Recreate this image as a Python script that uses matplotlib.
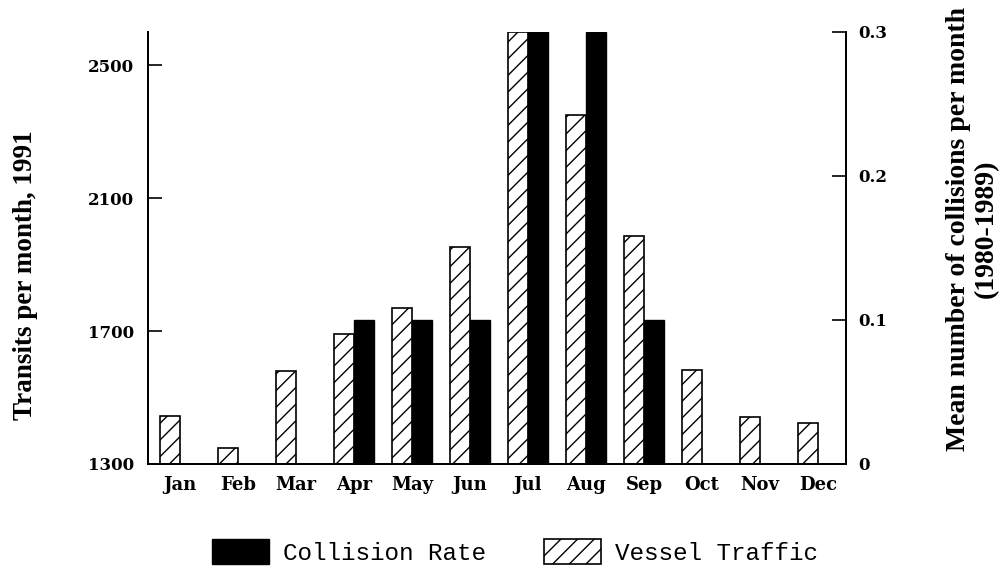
import numpy as np
import matplotlib
matplotlib.use("Agg")
import matplotlib.pyplot as plt
from matplotlib.patches import Patch

# monthly values
months = ["Jan", "Feb", "Mar", "Apr", "May", "Jun",
          "Jul", "Aug", "Sep", "Oct", "Nov", "Dec"]
vessel_traffic = [1443, 1348, 1579, 1690, 1770, 1952,
                  2600, 2349, 1987, 1584, 1440, 1423]
collision_rate = [0, 0, 0, 0.1, 0.1, 0.1,
                  0.3, 0.3, 0.1, 0, 0, 0]
left_ticks = [1300, 1700, 2100, 2500]
right_ticks = [0, 0.1, 0.2, 0.3]
right_tick_labels = ["0", "0.1", "0.2", "0.3"]

plt.rcParams["hatch.linewidth"] = 1.0
fig = plt.figure(figsize=(10.04, 5.70), dpi=100)
ax = fig.add_axes([0.1474, 0.186, 0.695, 0.758])
ax2 = ax.twinx()

x = np.arange(len(months))
w = 0.345
ax.bar(x - w / 2, np.array(vessel_traffic) - 1300, w, bottom=1300,
       color="white", edgecolor="black", hatch="//", linewidth=1.2)
ax2.bar(x + w / 2, collision_rate, w, color="black", edgecolor="black")

ax.set_xlim(-0.552, 11.48)
ax.set_ylim(1300, 2600)
ax2.set_ylim(0, 0.3)

tick_font = dict(family="DejaVu Serif", weight="bold", size=12)
ax.set_xticks(x)
ax.set_xticklabels(months, family="DejaVu Serif", weight="bold", size=13)
ax.set_yticks(left_ticks)
ax.set_yticklabels([str(t) for t in left_ticks], **tick_font)
ax2.set_yticks(right_ticks)
ax2.set_yticklabels(right_tick_labels, **tick_font)

ax.tick_params(axis="x", length=0, pad=9)
ax.tick_params(axis="y", direction="in", length=10, width=1.2, pad=10)
ax2.tick_params(axis="y", direction="in", length=10, width=1.2, pad=9)

for a in (ax, ax2):
    a.spines["top"].set_visible(False)
    for s in ("left", "right", "bottom"):
        a.spines[s].set_linewidth(1.4)

ax.set_ylabel("Transits per month, 1991", family="Liberation Serif",
              weight="bold", size=19.5)
ax.yaxis.set_label_coords(-0.1576, 0.4375)
ax2.set_ylabel("Mean number of collisions per month\n(1980-1989)",
               rotation=90, linespacing=1.15, family="Liberation Serif",
               weight="bold", size=20)
ax2.yaxis.set_label_coords(1.143, 0.545)

handles = [Patch(facecolor="black", edgecolor="black", label="Collision Rate"),
           Patch(facecolor="white", edgecolor="black", hatch="//",
                 linewidth=1.2, label="Vessel Traffic")]
fig.legend(handles=handles, loc="center", bbox_to_anchor=(0.513, 0.032),
           ncol=2, frameon=False, handlelength=2.35, handleheight=1.2,
           handletextpad=0.58, columnspacing=2.35,
           prop=dict(family="Liberation Mono", size=17.5))

fig.savefig("out.png", dpi=100)
